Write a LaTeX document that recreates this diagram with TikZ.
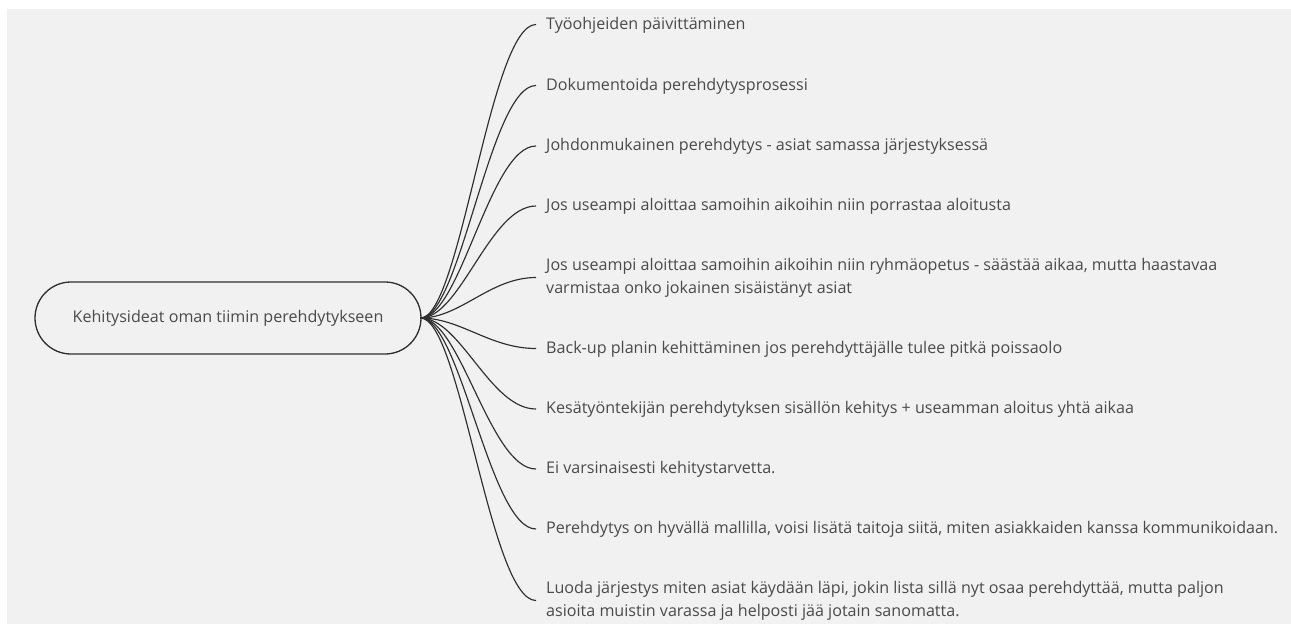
\documentclass[tikz,border=0pt]{standalone}
\usepackage{fontspec}
\setmainfont{Open Sans}
\begin{document}
\definecolor{canvas}{HTML}{F1F1F1}
\definecolor{ink}{HTML}{4A4A4A}
\definecolor{wire}{HTML}{2E2E2E}
\begin{tikzpicture}[x=1pt,y=-1pt,
  txt/.style={font=\fontsize{16.1}{22.5}\selectfont, text=ink},
  rootbox/.style={txt, draw=wire, line width=1.3pt, rounded corners=36pt,
    minimum width=386pt, minimum height=72pt, inner sep=0pt},
  leaf/.style={txt, anchor=west, align=left, inner xsep=10pt, inner ysep=0pt},
  branch/.style={draw=wire, line width=1.15pt}]
  % page and canvas
  \fill[white] (0,0) rectangle (1291,624);
  \fill[canvas] (7,9) rectangle (1291,624);
  \useasboundingbox (0,0) rectangle (1291,624);

  % central topic
  \node[rootbox] (root) at (228,318) {Kehitysideat oman tiimin perehdytykseen};
  \coordinate (hub) at (420.5,318);

  % ideas
  \node[leaf] (l1) at (536,24.5) {\strut Työohjeiden päivittäminen};
  \node[leaf] (l2) at (536,85.5) {\strut Dokumentoida perehdytysprosessi};
  \node[leaf] (l3) at (536,146) {\strut Johdonmukainen perehdytys - asiat samassa järjestyksessä};
  \node[leaf] (l4) at (536,206) {\strut Jos useampi aloittaa samoihin aikoihin niin porrastaa aloitusta};
  \node[leaf] (l5) at (536,277.5) {\strut Jos useampi aloittaa samoihin aikoihin niin ryhmäopetus - säästää aikaa, mutta haastavaa\\\strut varmistaa onko jokainen sisäistänyt asiat};
  \node[leaf] (l6) at (536,348.5) {\strut Back-up planin kehittäminen jos perehdyttäjälle tulee pitkä poissaolo};
  \node[leaf] (l7) at (536,409) {\strut Kesätyöntekijän perehdytyksen sisällön kehitys + useamman aloitus yhtä aikaa};
  \node[leaf] (l8) at (536,469) {\strut Ei varsinaisesti kehitystarvetta.};
  \node[leaf] (l9) at (536,529) {\strut Perehdytys on hyvällä mallilla, voisi lisätä taitoja siitä, miten asiakkaiden kanssa kommunikoidaan.};
  \node[leaf] (l10) at (536,600.5) {\strut Luoda järjestys miten asiat käydään läpi, jokin lista sillä nyt osaa perehdyttää, mutta paljon\\\strut asioita muistin varassa ja helposti jää jotain sanomatta.};

  % branches from the central topic
  \foreach \n in {l1,l2,l3,l4,l5,l6,l7,l8,l9,l10}{
    \draw[branch] (hub) .. controls ([xshift=40pt]hub) and ([xshift=-46pt]\n.west) .. (\n.west);
  }
\end{tikzpicture}
\end{document}
